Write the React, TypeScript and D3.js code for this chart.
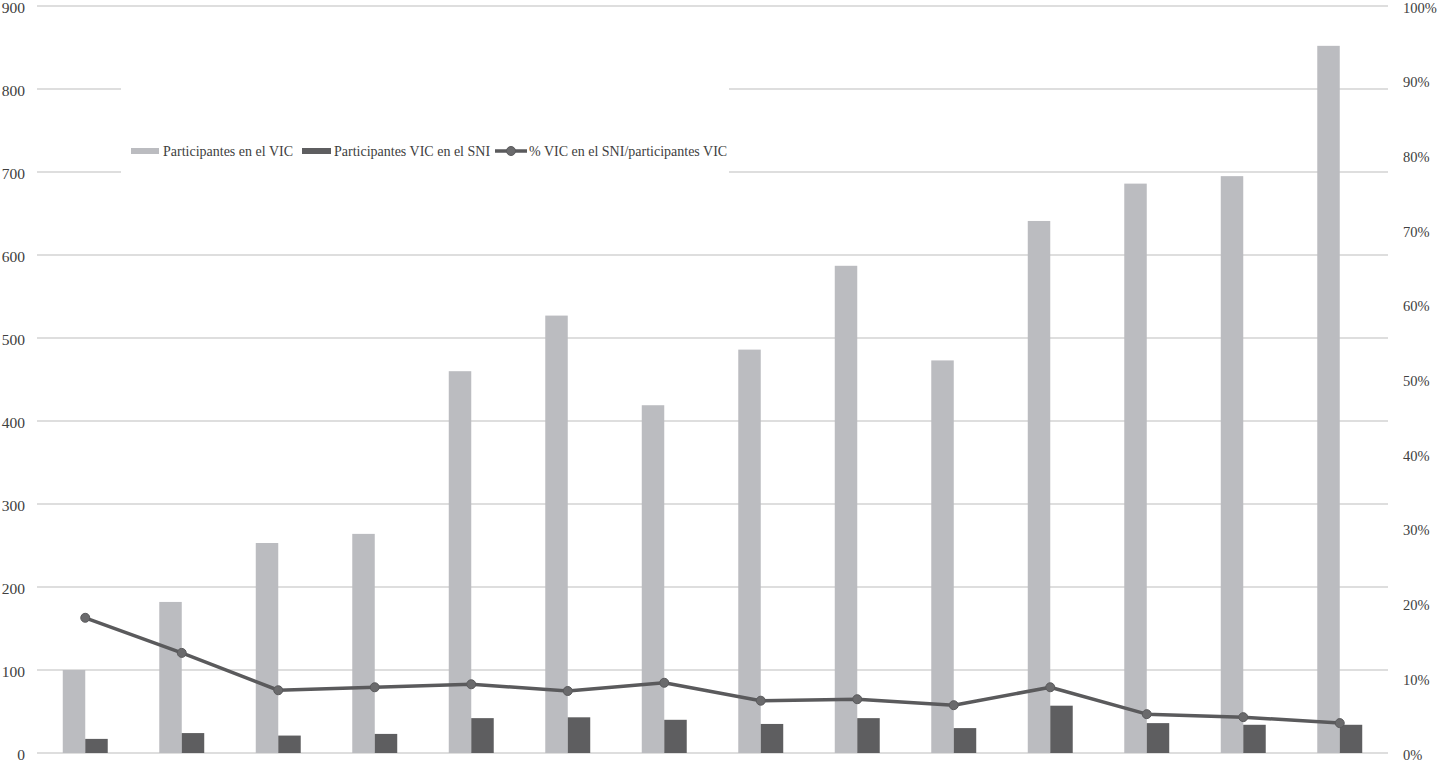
import React from "react";
import * as d3 from "d3";

const categories = ["1", "2", "3", "4", "5", "6", "7", "8", "9", "10", "11", "12", "13", "14"];
const participantesVIC = [100, 182, 253, 264, 460, 527, 419, 486, 587, 473, 641, 686, 695, 852];
const participantesSNI = [17, 24, 21, 23, 42, 43, 40, 35, 42, 30, 57, 36, 34, 34];
const porcentaje = [18.1, 13.4, 8.4, 8.8, 9.2, 8.3, 9.4, 7.0, 7.2, 6.4, 8.8, 5.2, 4.8, 4.0];
const leftTicks = [0, 100, 200, 300, 400, 500, 600, 700, 800, 900];
const rightTicks = [0, 10, 20, 30, 40, 50, 60, 70, 80, 90, 100];
const legendLabels = ["Participantes en el VIC", "Participantes VIC en el SNI", "% VIC en el SNI/participantes VIC"];

const W = 1438;
const H = 763;
const X0 = 37;
const X1 = 1388;
const Y0 = 753;
const Y1 = 6;

const LIGHT = "#bbbcc0";
const DARK = "#5e5e60";
const LINE = "#5a5a5c";
const GRID = "#d3d3d3";
const TEXT = "#404040";
const FONT = "'Liberation Serif', 'DejaVu Serif', serif";

export default function App() {
  const x = d3.scaleBand<string>().domain(categories).range([X0, X1]);
  const yL = d3.scaleLinear().domain([0, 900]).range([Y0, Y1]);
  const yR = d3.scaleLinear().domain([0, 100]).range([Y0, Y1]);
  const bw = x.bandwidth() * 0.233;
  const cx = (c: string) => (x(c) as number) + x.bandwidth() / 2;

  const line = d3
    .line<number>()
    .x((_, i) => cx(categories[i]))
    .y((d) => yR(d));

  return (
    <svg
      width={W}
      height={H}
      style={{ position: "absolute", left: 0, top: 0, background: "#fff" }}
      fontFamily={FONT}
    >
      <rect x={0} y={0} width={W} height={H} fill="#fff" />
      {leftTicks.map((t) => (
        <g key={"l" + t}>
          <line x1={X0} x2={X1} y1={yL(t)} y2={yL(t)} stroke={GRID} strokeWidth={1.5} />
          <text x={25} y={yL(t)} dy="0.45em" textAnchor="end" fontSize={15.5} fill={TEXT}>
            {t}
          </text>
        </g>
      ))}
      {rightTicks.map((t) => (
        <text key={"r" + t} x={1403} y={yR(t)} dy="0.45em" textAnchor="start" fontSize={14.5} fill={TEXT}>
          {t + "%"}
        </text>
      ))}
      {/* legend background */}
      <rect x={121} y={84} width={608} height={93} fill="#fff" />
      {categories.map((c, i) => (
        <g key={"b" + c}>
          <rect x={cx(c) - bw} y={yL(participantesVIC[i])} width={bw} height={Y0 - yL(participantesVIC[i])} fill={LIGHT} />
          <rect x={cx(c)} y={yL(participantesSNI[i])} width={bw} height={Y0 - yL(participantesSNI[i])} fill={DARK} />
        </g>
      ))}
      <path d={line(porcentaje) as string} fill="none" stroke={LINE} strokeWidth={3.5} strokeLinejoin="round" />
      {porcentaje.map((v, i) => (
        <circle key={"p" + i} cx={cx(categories[i])} cy={yR(v)} r={4.5} fill="#6a6a6c" stroke={LINE} strokeWidth={1} />
      ))}
      {/* legend */}
      <g fontSize={14} fill={TEXT}>
        <rect x={131} y={148} width={28} height={6} fill={LIGHT} />
        <text x={163} y={151} dy="0.38em">{legendLabels[0]}</text>
        <rect x={302} y={148} width={29} height={6} fill={DARK} />
        <text x={334} y={151} dy="0.38em">{legendLabels[1]}</text>
        <line x1={495} x2={527} y1={151} y2={151} stroke={LINE} strokeWidth={3.5} />
        <circle cx={511} cy={151} r={4.5} fill="#6a6a6c" stroke={LINE} strokeWidth={1} />
        <text x={529} y={151} dy="0.38em">{legendLabels[2]}</text>
      </g>
    </svg>
  );
}
